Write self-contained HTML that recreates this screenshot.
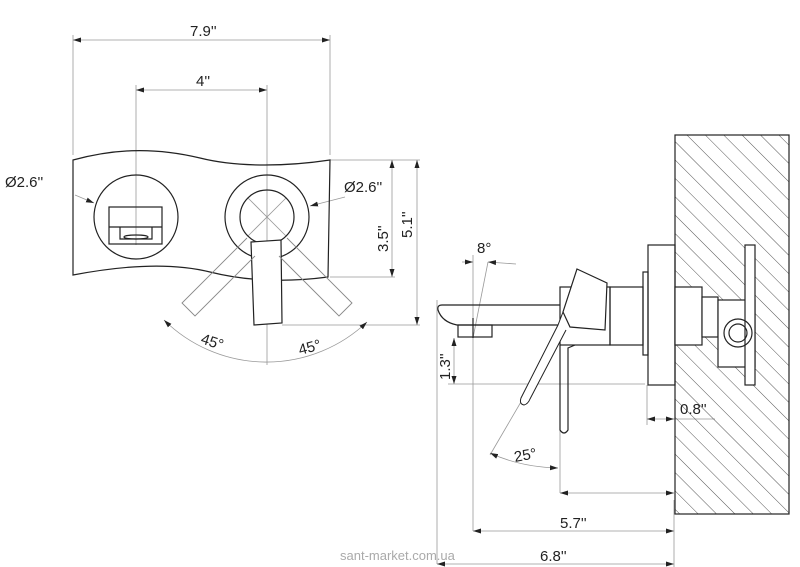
<!DOCTYPE html>
<html><head><style>html,body{margin:0;padding:0;background:#fff}svg{display:block}text{font-family:"Liberation Sans",sans-serif;fill:#222}</style></head>
<body>
<svg width="800" height="567" viewBox="0 0 800 567" xmlns="http://www.w3.org/2000/svg">
<defs>
<pattern id="h" width="13" height="13" patternUnits="userSpaceOnUse" patternTransform="rotate(-45)">
<line x1="0" y1="0" x2="0" y2="13" stroke="#555" stroke-width="1"/>
</pattern>
<marker id="a" markerWidth="8" markerHeight="6" refX="8" refY="3" orient="auto-start-reverse" markerUnits="userSpaceOnUse"><path d="M0,0.5 L8,3 L0,5.5z" fill="#222"/></marker>
</defs>
<g fill="none" stroke="#999" stroke-width="0.8">
<line x1="73" y1="35" x2="73" y2="155"/><line x1="330" y1="35" x2="330" y2="155"/>
<line x1="73" y1="40" x2="330" y2="40" marker-start="url(#a)" marker-end="url(#a)"/>
<line x1="136" y1="85" x2="136" y2="245"/><line x1="267" y1="85" x2="267" y2="365"/>
<line x1="136" y1="90" x2="267" y2="90" marker-start="url(#a)" marker-end="url(#a)"/>
<line x1="330" y1="160" x2="420" y2="160"/><line x1="330" y1="277" x2="395" y2="277"/><line x1="282" y1="325" x2="420" y2="325"/>
<line x1="392" y1="160" x2="392" y2="277" marker-start="url(#a)" marker-end="url(#a)"/>
<line x1="417" y1="160" x2="417" y2="325" marker-start="url(#a)" marker-end="url(#a)"/>
<path d="M164,320 A146,146 0 0 0 367,322" marker-start="url(#a)" marker-end="url(#a)"/>
<line x1="75" y1="195" x2="94" y2="203" marker-end="url(#a)"/>
<line x1="345" y1="197" x2="310" y2="206" marker-end="url(#a)"/>
<line x1="248" y1="198" x2="286" y2="236"/><line x1="286" y1="198" x2="248" y2="236"/>
<line x1="437" y1="300" x2="437" y2="564"/>
<line x1="437" y1="564" x2="674" y2="564" marker-start="url(#a)" marker-end="url(#a)"/>
<line x1="473" y1="255" x2="473" y2="531"/>
<line x1="473" y1="531" x2="674" y2="531" marker-start="url(#a)" marker-end="url(#a)"/>
<line x1="560" y1="345" x2="560" y2="493"/>
<line x1="560" y1="493" x2="674" y2="493" marker-start="url(#a)" marker-end="url(#a)"/>
<line x1="674" y1="500" x2="674" y2="567"/>
<line x1="647" y1="385" x2="647" y2="425"/>
<line x1="647" y1="419" x2="674" y2="419" marker-start="url(#a)" marker-end="url(#a)"/>
<line x1="674" y1="419" x2="715" y2="419"/>
<line x1="454" y1="338" x2="454" y2="384" marker-start="url(#a)" marker-end="url(#a)"/>
<line x1="448" y1="384" x2="645" y2="384"/>
<line x1="473" y1="338" x2="488" y2="262"/>
<line x1="462" y1="262" x2="473" y2="262" marker-end="url(#a)"/><line x1="516" y1="264" x2="488" y2="262" marker-end="url(#a)"/>
<line x1="525" y1="395" x2="490" y2="455"/>
<path d="M490,453 Q520,467 558,468" marker-start="url(#a)" marker-end="url(#a)"/>
</g>
<g fill="none" stroke="#222" stroke-width="1.2">
<path d="M73,160 C110,150 150,146 200,158 C240,168 290,166 330,160 L328,277 C290,282 250,282 210,272 C170,262 120,266 73,275 Z"/>
<circle cx="136" cy="217" r="42"/>
<rect x="109" y="207" width="53" height="37"/>
<line x1="109" y1="227" x2="162" y2="227"/>
<path d="M120,227 V239 H152 V227"/>
<ellipse cx="136" cy="237" rx="12" ry="2"/>
<circle cx="267" cy="217" r="42"/>
<circle cx="267" cy="217" r="27"/>
<path d="M251,242 L281,240 L282,323 L254,325 Z" fill="#fff"/>
<g stroke="#888" stroke-width="0.9"><path d="M247,238 L182,303 L195,316 L255,256"/><path d="M287,238 L352,303 L339,316 L279,256"/></g>
<path d="M560,305 L442,305 Q437,305 438,310 Q442,322 457,325 L560,325"/>
<rect x="458" y="325" width="34" height="12"/>
<line x1="473" y1="318" x2="473" y2="338"/>
<rect x="560" y="287" width="50" height="58"/>
<path d="M563,312 L558,325 L521,398 Q519,404 524,405 Q528,404 530,399 L566,330" stroke-width="1" fill="#fff"/>
<path d="M577,269 L607,283 L605,330 L570,327 L563,312 Z" fill="#fff"/>
<path d="M560,345 L560,430 Q564,436 568,430 L568,348 L575,345"/>
<rect x="610" y="287" width="33" height="58"/>
<rect x="643" y="272" width="5" height="83"/>
<rect x="648" y="245" width="27" height="140"/>
<rect x="675" y="135" width="114" height="379" fill="url(#h)"/>
<rect x="675" y="287" width="27" height="58" fill="#fff"/>
<rect x="702" y="297" width="16" height="40" fill="#fff"/>
<rect x="718" y="300" width="37" height="67" fill="#fff"/>
<rect x="745" y="245" width="10" height="140" fill="#fff"/>
<circle cx="738" cy="333" r="14"/><circle cx="738" cy="333" r="9"/>
</g>
<g font-size="15">
<text x="190" y="36">7.9''</text>
<text x="196" y="86">4''</text>
<text x="5" y="187">Ø2.6''</text>
<text x="344" y="192">Ø2.6''</text>
<text transform="translate(388,252) rotate(-90)">3.5''</text>
<text transform="translate(412,238) rotate(-90)">5.1''</text>
<text transform="translate(200,343) rotate(18)">45°</text>
<text transform="translate(300,355) rotate(-15)">45°</text>
<text x="477" y="253">8°</text>
<text transform="translate(450,380) rotate(-90)">1.3''</text>
<text x="680" y="414">0.8''</text>
<text transform="translate(515,462) rotate(-10)">25°</text>
<text x="560" y="528">5.7''</text>
<text x="540" y="561">6.8''</text>
</g>
<text x="340" y="560" font-size="13" style="fill:#aaa">sant-market.com.ua</text>
</svg>
</body></html>
